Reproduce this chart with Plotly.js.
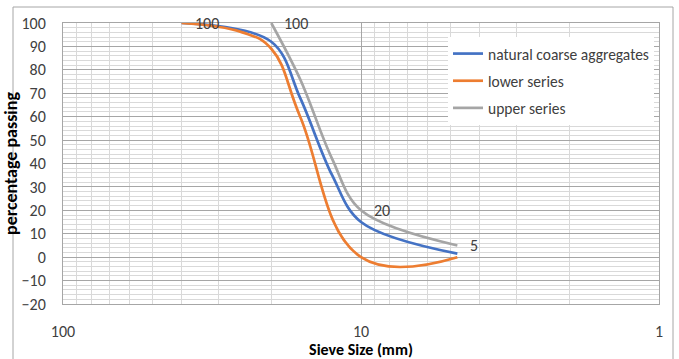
<!DOCTYPE html>
<html>
<head>
<meta charset="utf-8">
<script src="https://cdn.plot.ly/plotly-3.0.1.min.js"></script>
<style>
html,body{margin:0;padding:0;background:#fff;}
#chart{width:679px;height:359px;}
</style>
</head>
<body>
<div id="chart"></div>
<script>
// Sieve sizes (mm) and percentage passing
const sieveNatural = [40, 20, 16, 12.5, 10, 4.75];
const passingNatural = [100, 92, 68, 35, 15, 1.5];
const sieveLower = [40, 25, 20, 16, 10, 4.75];
const passingLower = [100, 96, 89, 60, 0, 0];
const sieveUpper = [20, 16, 12.5, 10, 4.75];
const passingUpper = [100, 76, 42, 20, 5];
const seriesNames = ["natural coarse aggregates", "lower series", "upper series"];
const yTickVals = [-20, -10, 0, 10, 20, 30, 40, 50, 60, 70, 80, 90, 100];
// which points carry a data label
const labelLowerIdx = [0];
const labelUpperIdx = [0, 3, 4];

const FONT = "Carlito, Calibri, Lato, 'Liberation Sans', sans-serif";
const lw = 2.7;

const traces = [
  {x: sieveNatural, y: passingNatural, name: seriesNames[0], legendgroup: "a", mode: "lines",
   line: {color: "#4472C4", width: lw, shape: "spline", smoothing: 1}},
  {x: sieveLower, y: passingLower, name: seriesNames[1], legendgroup: "b", mode: "lines",
   line: {color: "#ED7D31", width: lw, shape: "spline", smoothing: 1.2}},
  {x: sieveUpper, y: passingUpper, name: seriesNames[2], legendgroup: "c", mode: "lines",
   line: {color: "#A5A5A5", width: lw, shape: "spline", smoothing: 1}}
];

const labelPts = labelLowerIdx.map(i => ({x: sieveLower[i], y: passingLower[i]}))
  .concat(labelUpperIdx.map(i => ({x: sieveUpper[i], y: passingUpper[i]})));
const annotations = labelPts.map(p => ({
  x: Math.log10(p.x), y: p.y, xref: "x", yref: "y", text: String(p.y),
  showarrow: false, xanchor: "left", yanchor: "middle", xshift: 11,
  font: {family: FONT, size: 16, color: "#404040"}
}));

const plotW = 596, plotH = 281, mL = 63, mT = 23;
const layout = {
  width: 679, height: 359,
  margin: {l: mL, r: 20, t: mT, b: 55},
  paper_bgcolor: "#fff", plot_bgcolor: "#fff",
  font: {family: FONT, size: 16, color: "#404040"},
  showlegend: true,
  legend: {x: (448 - mL) / plotW, y: (mT + plotH - 37) / plotH, xanchor: "left", yanchor: "top",
           bgcolor: "#fff", borderwidth: 0, traceorder: "grouped", tracegroupgap: 4,
           font: {family: FONT, size: 15.5, color: "#404040"}},
  xaxis: {type: "log", range: [2, 0], dtick: 1, showgrid: true, gridcolor: "#a6a6a6", gridwidth: 1,
          minor: {dtick: "D1", showgrid: true, gridcolor: "#d9d9d9", ticks: ""},
          showline: true, mirror: true, linecolor: "#a6a6a6", zeroline: false,
          ticks: "", ticklabelstandoff: 13,
          tickfont: {family: FONT, size: 16, color: "#404040"},
          title: {text: "<b>Sieve Size (mm)</b>", standoff: 1, font: {family: FONT, size: 16, color: "#000"}}},
  yaxis: {range: [-20, 100], tickvals: yTickVals, showgrid: true, gridcolor: "#a6a6a6", gridwidth: 1,
          minor: {dtick: 2, showgrid: true, gridcolor: "#d9d9d9", ticks: ""},
          showline: true, mirror: true, linecolor: "#a6a6a6", zeroline: false,
          ticks: "", ticklabelstandoff: 13,
          tickfont: {family: FONT, size: 16, color: "#404040"},
          title: {text: "<b>percentage passing</b>", standoff: 0, font: {family: FONT, size: 18, color: "#000"}}},
  annotations: annotations,
  shapes: [{type: "rect", xref: "paper", yref: "paper",
            x0: (13 - mL) / plotW, x1: (673 - mL) / plotW, y0: -0.5, y1: (mT + plotH - 7) / plotH,
            line: {color: "#a6a6a6", width: 1}, fillcolor: "rgba(0,0,0,0)", layer: "below"}]
};

Plotly.newPlot("chart", traces, layout, {displayModeBar: false, staticPlot: true});
</script>
</body>
</html>
